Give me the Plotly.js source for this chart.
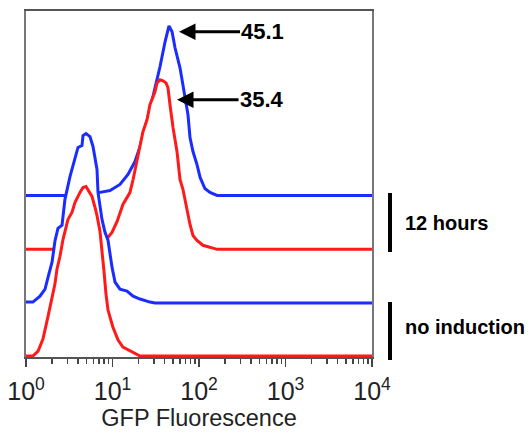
<!DOCTYPE html>
<html>
<head>
<meta charset="utf-8">
<script src="https://cdn.plot.ly/plotly-3.0.1.min.js"></script>
<style>html,body{margin:0;padding:0;background:#fff;}#chart{width:532px;height:433px;}</style>
</head>
<body>
<div id="chart"></div>
<script>
// GFP fluorescence (x) and normalized counts (% of mode) for each histogram
const noIndRedX  = [1, 1.2, 1.38, 1.57, 1.8, 2.0, 2.16, 2.28, 2.47, 2.68, 2.9, 3.06, 3.4, 3.69, 4.21, 4.56, 4.94, 5.21, 5.79, 6.28, 6.62, 7.17, 7.56, 7.97, 8.41, 8.87, 10.1, 11.6, 13.2, 17.3, 20.8, 10000];
const noIndRedY  = [0, 0, 2.9, 10, 23.5, 33.5, 42.4, 51.2, 58.8, 68.8, 75.9, 80.6, 84.7, 90.6, 96.5, 99.4, 100, 98.2, 94.1, 87.6, 82.9, 73.5, 62.9, 50, 36.5, 27.1, 17.1, 9.4, 5.3, 2.4, 0, 0];
const noIndBlueX = [1, 1.2, 1.45, 1.66, 1.8, 2.0, 2.16, 2.34, 2.61, 2.82, 3.23, 3.69, 3.99, 4.44, 4.56, 4.94, 5.49, 5.95, 6.62, 6.8, 7.56, 8.19, 8.87, 9.87, 10.7, 12.2, 14.7, 17.3, 20.8, 27.1, 31, 10000];
const noIndBlueY = [0.6, 0.6, 4.1, 8.2, 15.3, 24.1, 36.5, 44.1, 45.9, 61.2, 74.7, 86.5, 91.8, 92.9, 98.8, 100, 98.2, 92.4, 78.8, 65.3, 49.4, 41.8, 37.1, 21.2, 12.4, 8.2, 7.1, 4.1, 2.4, 0.6, 0, 0];
const h12RedX    = [1, 2.05, 3.23, 5.49, 7.17, 8.87, 9.87, 11.3, 13.2, 15.9, 17.3, 19.7, 22.5, 25.1, 27.1, 31, 32.7, 35.4, 38.4, 41.6, 43.8, 46.2, 50.1, 55.7, 60.3, 65.3, 72.7, 78.7, 85.2, 94.8, 111, 134, 162, 10000];
const h12RedY    = [0, 0, 0.6, 1.8, 4.1, 7.1, 10, 16.5, 26.5, 33.5, 41.2, 54.7, 69.4, 76.5, 85.3, 92.9, 98.2, 100, 99.4, 98.2, 95.3, 85.3, 71.8, 57.6, 41.2, 35.3, 22.4, 14.7, 8.2, 5.3, 2.4, 1.2, 0, 0];
const h12BlueX   = [1, 4.81, 7.17, 9.36, 12.2, 15.1, 18.2, 20.8, 23.75, 27.1, 31, 35.4, 40.5, 45, 48.8, 52.8, 60.3, 67.1, 74.6, 78.7, 85.2, 94.8, 103, 117, 134, 162, 10000];
const h12BlueY   = [0, 0, 1.8, 2.9, 6.5, 12.4, 20, 28.8, 40, 50.6, 63.5, 75.9, 90.6, 100, 96.5, 87.1, 75.3, 62.4, 47.6, 34.1, 25.9, 18.2, 10.6, 4.1, 1.8, 0, 0];

// vertical offsets of the stacked histograms (back to front)
const offsets = [94.7, 62.9, 31.2, 0];
const seriesX = [h12BlueX, h12RedX, noIndBlueX, noIndRedX];
const seriesY = [h12BlueY, h12RedY, noIndBlueY, noIndRedY];
const colors  = ['#1a2cff', '#ff1a1a', '#1a2cff', '#ff1a1a'];

const groupLabels = ['12 hours', 'no induction'];
const peakLabels = ['45.1', '35.4'];
const peakArrowX = [58.7, 55.7];
const peakArrowY = [191.2, 151.2];

const tickVals = [1, 10, 100, 1000, 10000];
const tickText = ['10<sup>0</sup>', '10<sup>1</sup>', '10<sup>2</sup>', '10<sup>3</sup>', '10<sup>4</sup>'];
const minorVals = [];
tickVals.slice(0, 4).forEach(d => { for (let k = 2; k <= 9; k++) minorVals.push(d * k); });

const traces = seriesX.map((xs, i) => ({
  x: xs,
  y: seriesY[i].map(v => v + offsets[i]),
  type: 'scatter', mode: 'lines',
  line: {color: colors[i], width: 3},
  fill: 'tozeroy', fillcolor: '#ffffff',
  hoverinfo: 'skip', showlegend: false
}));

const font = 'Liberation Sans, Arial, sans-serif';
const layout = {
  width: 532, height: 433,
  margin: {l: 26, r: 160, t: 11, b: 76},
  paper_bgcolor: '#fff', plot_bgcolor: '#fff',
  showlegend: false,
  xaxis: {
    type: 'log', range: [0, 4],
    tickmode: 'array', tickvals: tickVals, ticktext: tickText,
    ticks: 'outside', ticklen: 8, tickwidth: 1.5, tickcolor: '#444',
    ticklabelstandoff: 3,
    minor: {tickmode: 'array', tickvals: minorVals, ticks: 'outside', ticklen: 5, tickwidth: 1.5, tickcolor: '#444', showgrid: false},
    showline: true, linecolor: '#555', linewidth: 2, mirror: true,
    showgrid: false, zeroline: false,
    tickfont: {family: font, size: 25, color: '#222'},
    title: {text: 'GFP Fluorescence', font: {family: font, size: 23.5, color: '#222'}, standoff: 2}
  },
  yaxis: {
    range: [-0.6, 203.5],
    showticklabels: false, ticks: '',
    showline: true, linecolor: '#777', linewidth: 2, mirror: true,
    showgrid: false, zeroline: false
  },
  annotations: [
    {x: Math.log10(peakArrowX[0]), y: peakArrowY[0], xref: 'x', yref: 'y', text: '<b>' + peakLabels[0] + '</b>',
     showarrow: true, arrowhead: 2, arrowsize: 1.1, arrowwidth: 3, arrowcolor: '#000', ax: 84, ay: 0,
     font: {family: font, size: 22, color: '#000'}},
    {x: Math.log10(peakArrowX[1]), y: peakArrowY[1], xref: 'x', yref: 'y', text: '<b>' + peakLabels[1] + '</b>',
     showarrow: true, arrowhead: 2, arrowsize: 1.1, arrowwidth: 3, arrowcolor: '#000', ax: 85, ay: 0,
     font: {family: font, size: 22, color: '#000'}},
    {x: 1.0896, y: 0.387, xref: 'paper', yref: 'paper', xanchor: 'left', yanchor: 'middle', showarrow: false,
     text: '<b>' + groupLabels[0] + '</b>', font: {family: font, size: 20, color: '#000'}},
    {x: 1.0896, y: 0.0867, xref: 'paper', yref: 'paper', xanchor: 'left', yanchor: 'middle', showarrow: false,
     text: '<b>' + groupLabels[1] + '</b>', font: {family: font, size: 20, color: '#000'}}
  ],
  shapes: [
    {type: 'line', xref: 'paper', yref: 'paper', x0: 1.052, x1: 1.052, y0: 0.474, y1: 0.3035, line: {color: '#000', width: 4}},
    {type: 'line', xref: 'paper', yref: 'paper', x0: 1.052, x1: 1.052, y0: 0.159, y1: -0.0087, line: {color: '#000', width: 4}}
  ]
};

Plotly.newPlot('chart', traces, layout, {staticPlot: true, displayModeBar: false});
</script>
</body>
</html>
